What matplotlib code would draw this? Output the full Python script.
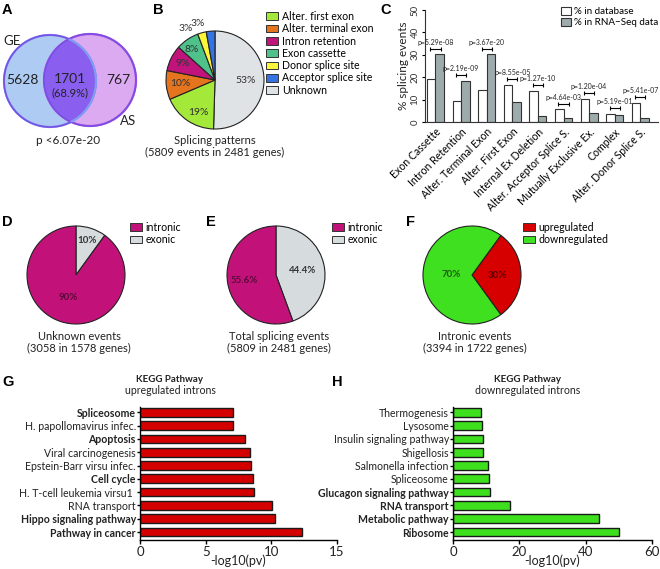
import numpy as np
import matplotlib
matplotlib.use("Agg")
import matplotlib.pyplot as plt
from matplotlib.patches import Circle, Patch

plt.rcParams["font.family"] = ["Lato", "DejaVu Sans"]

# data

venn_counts = [5628, 1701, 767]
venn_overlap_pct = "(68.9%)"
venn_pvalue = "p <6.07e-20"

pattern_names = ["Alter. first exon", "Alter. terminal exon", "Intron retention",
                 "Exon cassette", "Donor splice site", "Acceptor splice site", "Unknown"]
pattern_pct = [19, 10, 9, 8, 3, 3, 53]
pattern_colors = ["#a4e83a", "#e4741e", "#c0147c", "#4fc28c", "#fbf63a", "#3573e0", "#dfe3e6"]

event_types = ["Exon Cassette", "Intron Retention", "Alter. Terminal Exon", "Alter. First Exon",
               "Internal Ex Deletion", "Alter. Acceptor Splice S.", "Mutually Exclusive Ex.",
               "Complex", "Alter. Donor Splice S."]
pct_database = [19.4, 9.5, 14.1, 16.6, 14.0, 5.6, 10.4, 3.7, 8.6]
pct_rnaseq = [30.2, 18.5, 30.2, 9.1, 2.8, 2.0, 4.2, 3.0, 1.6]
pvalues = ["p=5.29e-08", "p=2.19e-09", "p=3.67e-20", "p=8.55e-05", "p=1.27e-10",
           "p=4.64e-03", "p=1.20e-04", "p=5.19e-01", "p=5.41e-07"]

location_names = ["intronic", "exonic"]
unknown_pct = [90, 10]
total_pct = [55.6, 44.4]
direction_names = ["upregulated", "downregulated"]
intronic_pct = [30, 70]

up_pathways = ["Spliceosome", "H. papollomavirus infec.", "Apoptosis", "Viral carcinogenesis",
               "Epstein-Barr virsu infec.", "Cell cycle", "H. T-cell leukemia virsu1 ",
               "RNA transport", "Hippo signaling pathway", "Pathway in cancer"]
up_values = [7.06, 7.1, 8.0, 8.38, 8.43, 8.58, 8.7, 10.03, 10.26, 12.36]
up_bold = [1, 0, 1, 0, 0, 1, 0, 0, 1, 1]

down_pathways = ["Thermogenesis", "Lysosome", "Insulin signaling pathway", "Shigellosis",
                 "Salmonella infection", "Spliceosome", "Glucagon signaling pathway",
                 "RNA transport", "Metabolic pathway", "Ribosome"]
down_values = [8.3, 8.7, 8.9, 9.1, 10.7, 10.9, 11.1, 17.2, 44.1, 49.9]
down_bold = [0, 0, 0, 0, 0, 0, 1, 1, 1, 1]

W, H = 660, 569
MAGENTA = "#c2127a"
LIGHTGRAY = "#d6dbdd"
GREEN = "#3fe01f"
RED = "#d60000"
EDGE = "#222222"


def box(x0, y0, x1, y1):
    # pixel box (top-left origin) -> figure fraction rect
    return [x0 / W, 1 - y1 / H, (x1 - x0) / W, (y1 - y0) / H]


fig = plt.figure(figsize=(W / 100, H / 100), dpi=100)

# panel letters
for letter, (lx, ly) in zip("ABCDEFGH", [(2, 3), (153, 3), (380, 3), (2, 215), (206, 215),
                                         (406, 215), (2, 375), (332, 375)]):
    fig.text(lx / W, 1 - ly / H, letter, fontsize=10.5, fontweight="bold",
             family="Liberation Sans", va="top", ha="left")

# A: venn

axA = fig.add_axes(box(0, 20, 150, 160))
axA.set_xlim(0, 150)
axA.set_ylim(160, 20)
axA.axis("off")
ge = Circle((50, 81), 46, facecolor="#aecbf4", edgecolor="#7f9ef2", lw=1.6)
as_ = Circle((90, 80), 46, facecolor="#dcaaf1", edgecolor="#b652dc", lw=1.6)
axA.add_patch(ge)
axA.add_patch(as_)
inter = Circle((90, 80), 46, facecolor="#8a5ff0", edgecolor="none")
axA.add_patch(inter)
inter.set_clip_path(ge)
for c in [(50, 81), (90, 80)]:
    axA.add_patch(Circle(c, 46, facecolor="none", edgecolor="#7a4fe6", lw=1.2))
axA.add_patch(Circle((50, 81), 46, facecolor="none", edgecolor="#7f9ef2", lw=1.6)).set_clip_path(
    Circle((90, 80), 46, transform=axA.transData))
axA.text(22, 80, str(venn_counts[0]), ha="center", va="center", fontsize=10, color="#222")
axA.text(70, 79, str(venn_counts[1]), ha="center", va="center", fontsize=10, color="#222")
axA.text(70, 93, venn_overlap_pct, ha="center", va="center", fontsize=8, color="#222")
axA.text(118, 80, str(venn_counts[2]), ha="center", va="center", fontsize=10, color="#222")
axA.text(12, 41, "GE", ha="center", va="center", fontsize=9.5, color="#222")
axA.text(128, 121, "AS", ha="center", va="center", fontsize=9.5, color="#222")
axA.text(68, 140, venn_pvalue, ha="center", va="center", fontsize=8.5, color="#222")


# pies

def pie_axes(cx, cy, r):
    pad = 1.25
    ax = fig.add_axes(box(cx - r * pad, cy - r * pad, cx + r * pad, cy + r * pad))
    return ax


def label_wedges(ax, wedges, texts, dists, colors, nudges=None, **kw):
    if nudges is None:
        nudges = [0] * len(wedges)
    for wd, t, d, c, nd in zip(wedges, texts, dists, colors, nudges):
        mid = np.deg2rad((wd.theta1 + wd.theta2) / 2 + nd)
        ax.text(d * np.cos(mid), d * np.sin(mid), t, ha="center", va="center", color=c, **kw)


# B: splicing patterns
axB = pie_axes(215, 80, 49)
order = [6, 0, 1, 2, 3, 4, 5]
wedgesB, _ = axB.pie([pattern_pct[i] for i in order], colors=[pattern_colors[i] for i in order],
                     startangle=90, counterclock=False,
                     wedgeprops=dict(edgecolor=EDGE, linewidth=0.8))
label_wedges(axB, wedgesB, ["%d%%" % pattern_pct[i] for i in order],
             [0.62, 0.75, 0.72, 0.74, 0.78, 1.2, 1.2], ["#333"] * 7,
             nudges=[0, 8, 0, 0, 3, 14, 12], fontsize=7.5)
fig.text(215 / W, 1 - 140 / H, "Splicing patterns", ha="center", va="center", fontsize=8, color="#222")
fig.text(215 / W, 1 - 152 / H, "(5809 events in 2481 genes)", ha="center", va="center",
         fontsize=8, color="#222")
fig.legend([Patch(facecolor=c, edgecolor="#333", lw=0.7) for c in pattern_colors], pattern_names,
           loc="upper left", bbox_to_anchor=(266 / W, 1 - 11 / H), frameon=False, fontsize=7.6,
           handlelength=1.1, handleheight=0.75, handletextpad=0.4, labelspacing=0.12, borderpad=0,
           borderaxespad=0)

# D, E, F
pie_specs = [
    (76, unknown_pct, [MAGENTA, LIGHTGRAY], location_names, [0.48, 0.74],
     ["#5a0a38", "#333"], "Unknown events", "(3058 in 1578 genes)", 130),
    (276, total_pct, [MAGENTA, LIGHTGRAY], location_names, [0.66, 0.55],
     ["#5a0a38", "#333"], "Total splicing events", "(5809 in 2481 genes)", 332),
    (472, intronic_pct, [RED, GREEN], direction_names, [0.52, 0.42],
     ["#5a0000", "#1d5c10"], "Intronic events", "(3394 in 1722 genes)", 523),
]
for cx, vals, cols, names, dists, tcols, title1, title2, legx in pie_specs:
    ax = pie_axes(cx, 275, 49)
    if names is direction_names:
        # upregulated slice centred on the right side
        wedges, _ = ax.pie(vals, colors=cols, startangle=vals[0] * 3.6 / 2,
                           counterclock=False, wedgeprops=dict(edgecolor=EDGE, linewidth=0.8))
        label_wedges(ax, wedges, ["%g%%" % v for v in vals], dists, tcols,
                     fontsize=7, fontweight="bold")
    else:
        # exonic slice goes clockwise from the top
        wedges, _ = ax.pie(vals[::-1], colors=cols[::-1], startangle=90, counterclock=False,
                           wedgeprops=dict(edgecolor=EDGE, linewidth=0.8))
        label_wedges(ax, wedges, ["%g%%" % v for v in vals[::-1]], dists[::-1], tcols[::-1],
                     fontsize=7, fontweight="bold")
    tx = cx + 3
    fig.text(tx / W, 1 - 336 / H, title1, ha="center", va="center", fontsize=8, color="#222")
    fig.text(tx / W, 1 - 348 / H, title2, ha="center", va="center", fontsize=8, color="#222")
    fig.legend([Patch(facecolor=c, edgecolor="#333", lw=0.7) for c in cols], names,
               loc="upper left", bbox_to_anchor=(legx / W, 1 - 222 / H), frameon=False,
               fontsize=7.6, handlelength=1.1, handleheight=0.75, handletextpad=0.4,
               labelspacing=0.12, borderpad=0, borderaxespad=0)

# C: bar chart of splicing event types

axC = fig.add_axes(box(425, 10, 658, 122))
x = np.arange(len(event_types))
w = 0.33
axC.bar(x - w / 2, pct_database, w, color="white", edgecolor="#333", lw=0.8)
axC.bar(x + w / 2, pct_rnaseq, w, color="#9eabad", edgecolor="#333", lw=0.8)
for i in range(len(x)):
    yb = max(pct_database[i], pct_rnaseq[i]) + 2.6
    axC.errorbar(i, yb, xerr=0.2, color="k", lw=0.8, capsize=1.6, capthick=0.8)
    axC.text(i, yb + 1.3, pvalues[i], ha="center", va="bottom", fontsize=5.0, color="#222")
axC.set_xlim(-0.41, 8.69)
axC.set_ylim(0, 50)
axC.set_yticks(np.arange(0, 51, 10))
axC.tick_params(axis="y", labelsize=7, length=2.5, width=0.8, pad=1.5, labelrotation=90,
                labelcolor="#333")
for t in axC.get_yticklabels():
    t.set_va("center")
axC.set_xticks(x)
axC.set_xticklabels(event_types, rotation=45, ha="right", rotation_mode="anchor", fontsize=7.6)
axC.tick_params(axis="x", length=0, pad=3)
for s in ["top", "right"]:
    axC.spines[s].set_visible(False)
for s in ["left", "bottom"]:
    axC.spines[s].set_linewidth(0.8)
    axC.spines[s].set_color("#333")
axC.set_ylabel("% splicing events", fontsize=8.5, labelpad=1, color="#222")
axC.legend([Patch(facecolor="white", edgecolor="#333", lw=0.8),
            Patch(facecolor="#9eabad", edgecolor="#333", lw=0.8)],
           ["% in database", "% in RNA\u2212Seq data"], loc="upper left",
           bbox_to_anchor=((561 - 425) / 233, 1 + 3 / 112), frameon=False, fontsize=7.1,
           handlelength=1.0, handleheight=0.8, handletextpad=0.35, labelspacing=0.2,
           borderpad=0, borderaxespad=0)


# G, H: KEGG pathways

def kegg(ax, names, vals, bold, color, xmax, xticks):
    n = len(names)
    ypos = np.arange(n)[::-1]
    ax.barh(ypos, vals, height=0.65, color=color, edgecolor="#1a1a1a", lw=1)
    ax.set_yticks(ypos)
    ax.set_yticklabels(names, fontsize=7.6, color="#222")
    for t, b in zip(ax.get_yticklabels(), bold):
        if b:
            t.set_fontweight("bold")
    ax.set_ylim(-0.6, n - 0.6)
    ax.set_xlim(0, xmax)
    ax.set_xticks(xticks)
    ax.tick_params(axis="x", labelsize=9.5, length=3, width=1, pad=1, labelcolor="#222")
    ax.tick_params(axis="y", length=2, width=1, pad=1)
    for s in ["top", "right"]:
        ax.spines[s].set_visible(False)
    for s in ["left", "bottom"]:
        ax.spines[s].set_linewidth(1)
    ax.set_xlabel("-log10(pv)", fontsize=9, labelpad=-2, color="#222")


axG = fig.add_axes(box(140, 407, 337, 540))
kegg(axG, up_pathways, up_values, up_bold, "#d40000", 15, [0, 5, 10, 15])
axH = fig.add_axes(box(453, 407, 652, 540))
kegg(axH, down_pathways, down_values, down_bold, "#3ee01e", 60, [0, 20, 40, 60])

for cx, sub in [(170, "upregulated introns"), (528, "downregulated introns")]:
    fig.text(cx / W, 1 - 380 / H, "KEGG Pathway", ha="center", va="center", fontsize=7,
             fontweight="bold", color="#222")
    fig.text(cx / W, 1 - 391 / H, sub, ha="center", va="center", fontsize=7.6, color="#222")

fig.savefig("out.png", dpi=100)
